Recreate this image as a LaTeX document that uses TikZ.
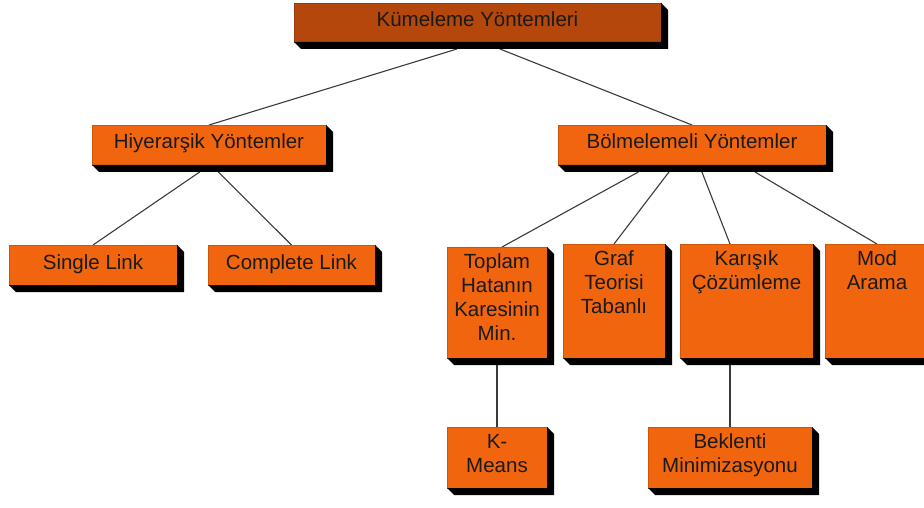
\documentclass[tikz,border=0pt]{standalone}
\usepackage{fontspec}
\setmainfont{Liberation Sans}
\usetikzlibrary{calc}
\pgfdeclarelayer{background}
\pgfsetlayers{background,main}
\definecolor{kututuruncu}{HTML}{F0650E}
\definecolor{kokkahve}{HTML}{B4470B}
\definecolor{yazi}{HTML}{1A1A1A}
\definecolor{cizgi}{HTML}{3A3A3A}
\tikzset{
  kutu/.style={inner sep=0pt, outer sep=0pt, fill=kututuruncu,
    draw=kututuruncu!85!black, line width=0.4pt, text=yazi,
    font=\fontsize{20.5}{24}\selectfont},
  kok/.style={kutu, fill=kokkahve, draw=kokkahve!85!black},
  golge/.style={fill=black},
  bag/.style={draw=cizgi, line width=1.1pt},
}
% box with a 3D extruded shadow: name, style, x1, y1, x2, y2, top padding, text
\newcommand\kutuciz[8]{%
  \pgfmathsetmacro\kw{#5-#3}\pgfmathsetmacro\kh{#6-#4}%
  \node[#2, anchor=north west] (#1) at (#3,#4)
    {\parbox[c][\kh pt][t]{\kw pt}{\centering\vspace*{#7pt}\strut #8}};
  \fill[golge] (#1.north east) -- ++(7,7) -- ([shift={(7,7)}]#1.south east)
    -- ([shift={(7,7)}]#1.south west) -- (#1.south west) -- (#1.south east) -- cycle;
}
% point at fraction #2 along the lower edge of the shadow of node #1
\newcommand\altnokta[2]{($(#1.south west)!#2!(#1.south east)+(0,7)$)}
\begin{document}
\begin{tikzpicture}[x=1pt, y=-1pt]
  \useasboundingbox (0,0) rectangle (924,508);
  \clip (0,0) rectangle (924,508);

  \kutuciz{kok}{kok}{294}{3}{661}{42}{7}{Kümeleme Yöntemleri}
  \kutuciz{hiy}{kutu}{92}{125}{326}{165}{7}{Hiyerarşik Yöntemler}
  \kutuciz{bol}{kutu}{558}{125}{826}{165}{7}{Bölmelemeli Yöntemler}
  \kutuciz{single}{kutu}{9}{245}{177}{285}{8}{Single Link}
  \kutuciz{complete}{kutu}{208}{245}{375}{285}{8}{Complete Link}
  \kutuciz{toplam}{kutu}{447}{247}{547}{358}{5}{Toplam\\Hatanın\\Karesinin\\Min.}
  \kutuciz{graf}{kutu}{563}{244}{665}{358}{5}{Graf\\Teorisi\\Tabanlı}
  \kutuciz{karisik}{kutu}{680}{244}{813}{358}{5}{Karışık\\Çözümleme}
  \kutuciz{mod}{kutu}{825}{244}{929}{358}{5}{Mod\\Arama}
  \kutuciz{kmeans}{kutu}{447}{427}{547}{488}{5}{K-\\Means}
  \kutuciz{beklenti}{kutu}{648}{427}{812}{488}{5}{Beklenti\\Minimizasyonu}

  \begin{pgfonlayer}{background}
    \draw[bag] \altnokta{kok}{0.444} -- (hiy.north);
    \draw[bag] \altnokta{kok}{0.561} -- (bol.north);
    \draw[bag] \altnokta{hiy}{0.46} -- (single.north);
    \draw[bag] \altnokta{hiy}{0.54} -- (complete.north);
    \draw[bag] \altnokta{bol}{0.30} -- ($(toplam.north west)!0.55!(toplam.north east)$);
    \draw[bag] \altnokta{bol}{0.414} -- (graf.north);
    \draw[bag] \altnokta{bol}{0.537} -- ($(karisik.north west)!0.376!(karisik.north east)$);
    \draw[bag] \altnokta{bol}{0.735} -- (mod.north);
    \draw[bag] (toplam.south) -- (kmeans.north);
    \draw[bag] (beklenti.north |- karisik.south) -- (beklenti.north);
  \end{pgfonlayer}
\end{tikzpicture}
\end{document}
